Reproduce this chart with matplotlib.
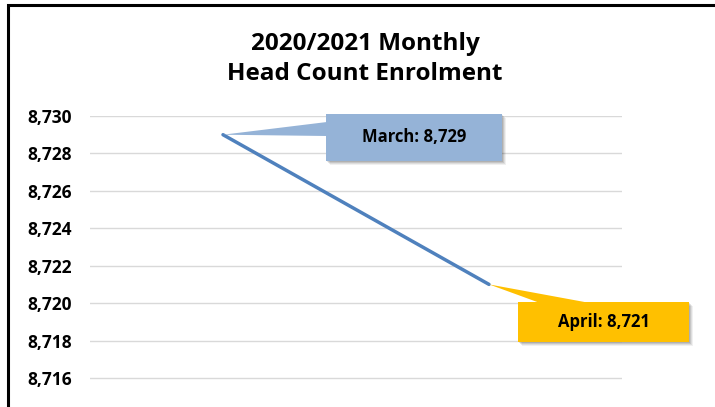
import matplotlib.pyplot as plt
from matplotlib.patches import Rectangle, Polygon
from matplotlib.ticker import FuncFormatter

months = ["March", "April"]
head_count = [8729, 8721]
y_ticks = [8716, 8718, 8720, 8722, 8724, 8726, 8728, 8730]
title = "2020/2021 Monthly\nHead Count Enrolment"

W, H = 715, 407
plt.rcParams['font.family'] = ['Open Sans', 'DejaVu Sans']

fig = plt.figure(figsize=(W / 100, H / 100), dpi=100)


def fx(px):
    return px / W


def fy(py):
    return 1 - py / H


# plot area in pixels: x 90..622, top at 116, runs off the bottom
ax = fig.add_axes([fx(90), 0, fx(622) - fx(90), fy(116)])
ax.plot(range(len(months)), head_count, color="#4F81BD", lw=2.5,
        solid_capstyle="round", zorder=3)
ax.set_xlim(-0.5, 1.5)
ax.set_ylim(8730 - (H - 116) / 18.71, 8730)
ax.set_yticks(y_ticks)
ax.yaxis.set_major_formatter(FuncFormatter(lambda v, p: f"{int(v):,}"))
ax.tick_params(axis="y", length=0, pad=13, labelsize=12.5)
for lab in ax.get_yticklabels():
    lab.set_fontweight("bold")
ax.set_xticks([])
ax.grid(axis="y", color="#D9D9D9", lw=1)
ax.set_axisbelow(True)
for s in ax.spines.values():
    s.set_visible(False)

fig.text(fx(365), fy(59), title, ha="center", va="center", fontsize=17.5,
         fontweight="bold", linespacing=1.35)

# chart border (runs off right and bottom)
fig.patches.append(Rectangle((fx(8), -0.05), 1.2, fy(5) + 0.05, transform=fig.transFigure,
                             fill=False, ec="black", lw=2.2, zorder=10))


def to_fig(i):
    d = ax.transData.transform((i, head_count[i]))
    return fig.transFigure.inverted().transform(d)


def callout(i, box, base, color):
    x0, y0, x1, y1 = box
    tip = to_fig(i)
    # soft shadow
    for k, a in enumerate([0.10, 0.10, 0.08, 0.06]):
        o = k + 1
        fig.patches.append(Rectangle((fx(x0 + o), fy(y1 + o)), fx(x1) - fx(x0), fy(y0) - fy(y1),
                                     transform=fig.transFigure, fc="black", ec="none",
                                     alpha=a, zorder=4))
    fig.patches.append(Polygon([tip, (fx(base[0][0]), fy(base[0][1])),
                                (fx(base[1][0]), fy(base[1][1]))],
                               transform=fig.transFigure, fc=color, ec="none", zorder=5))
    fig.patches.append(Rectangle((fx(x0), fy(y1)), fx(x1) - fx(x0), fy(y0) - fy(y1),
                                 transform=fig.transFigure, fc=color, ec="none", zorder=5))
    fig.text(fx((x0 + x1) / 2), fy((y0 + y1) / 2),
             f"{months[i]}: {head_count[i]:,}", ha="center", va="center",
             fontsize=12, fontweight="bold", zorder=6)


callout(0, (326, 114, 502, 161), [(327, 122), (327, 136)], "#95B3D7")
callout(1, (518, 302, 689, 342), [(540, 303), (590, 303)], "#FFC000")

fig.savefig("out.png", dpi=100)
